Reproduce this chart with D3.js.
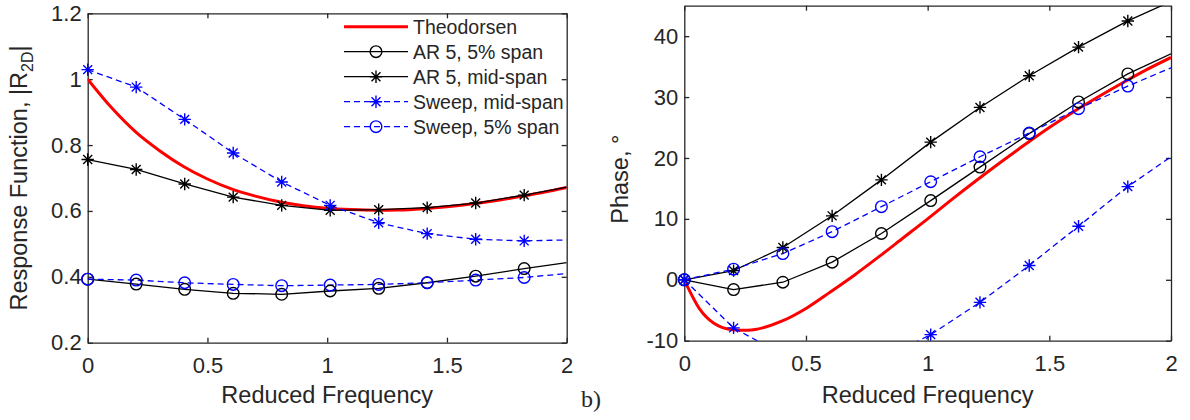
<!DOCTYPE html>
<html>
<head>
<meta charset="utf-8">
<script src="https://cdn.jsdelivr.net/npm/d3@7"></script>
<style>
body { margin: 0; background: #fff; }
svg text { font-family: "Liberation Sans", Arial, Helvetica, sans-serif; fill: #262626; }
</style>
</head>
<body>
<div id="chart"></div>
<script>
// reduced frequency of the measured points (last entry = end of line, no marker)
var freq = [0, 0.2025, 0.405, 0.6075, 0.81, 1.0125, 1.215, 1.4175, 1.62, 1.8225, 2.0];
var markerCount = 10;

// a) response function magnitude
var magAR5Tip   = [0.393, 0.378, 0.362, 0.350, 0.347, 0.357, 0.365, 0.382, 0.402, 0.425, 0.443];
var magAR5Mid   = [0.756, 0.726, 0.682, 0.642, 0.617, 0.602, 0.604, 0.610, 0.624, 0.648, 0.672];
var magSweepMid = [1.029, 0.976, 0.878, 0.776, 0.688, 0.617, 0.564, 0.531, 0.514, 0.509, 0.512];
var magSweepTip = [0.393, 0.390, 0.382, 0.377, 0.373, 0.375, 0.377, 0.382, 0.390, 0.398, 0.410];

var theoMagK = [0, 0.1, 0.2, 0.3, 0.4, 0.5, 0.6, 0.7, 0.8, 0.9, 1.0, 1.1, 1.2, 1.3, 1.4, 1.5, 1.6, 1.7, 1.8, 1.9, 2.0];
var theoMag  = [1.0, 0.913, 0.84, 0.783, 0.735, 0.697, 0.667, 0.645, 0.628, 0.616, 0.608, 0.604, 0.602, 0.603, 0.607, 0.613, 0.621, 0.631, 0.643, 0.656, 0.671];

// b) phase, degrees
var phAR5Tip   = [0, -1.6, -0.4, 2.9, 7.6, 13.0, 18.5, 24.0, 29.2, 33.8, 37.1];
var phAR5Mid   = [0, 1.5, 5.3, 10.5, 16.4, 22.6, 28.3, 33.5, 38.2, 42.5, 45.7];
var phSweepMid = [0, -7.9, -12.3, -13.6, -13.0, -9.0, -3.7, 2.35, 8.8, 15.3, 20.2];
var phSweepTip = [0, 1.75, 4.3, 7.9, 12.0, 16.1, 20.2, 24.1, 28.1, 31.8, 34.8];

var theoPhK = [0, 0.065, 0.12, 0.2, 0.26, 0.3, 0.4, 0.5, 0.6, 0.7, 0.8, 0.9, 1.0, 1.1, 1.2, 1.3, 1.4, 1.5, 1.6, 1.7, 1.8, 1.9, 2.0];
var theoPh  = [0, -4.9, -7.1, -8.2, -8.3, -8.1, -6.8, -4.7, -2.0, 0.8, 3.8, 6.9, 10.0, 13.2, 16.3, 19.3, 22.2, 25.0, 27.6, 30.0, 32.3, 34.5, 36.5];

var xTicks = [0, 0.5, 1, 1.5, 2];
var magTicks = [0.2, 0.4, 0.6, 0.8, 1, 1.2];
var phTicks = [-10, 0, 10, 20, 30, 40];

var legendNames = ["Theodorsen", "AR 5, 5% span", "AR 5, mid-span", "Sweep, mid-span", "Sweep, 5% span"];

var axisColor = "#262626";

var svg = d3.select('#chart').append('svg')
    .attr('width', 1190)
    .attr('height', 420);

// asterisk marker: "+" and "x" on top of each other
function starPath(s) {
    var d = s * 0.72;
    return 'M0,' + (-s) + 'V' + s + 'M' + (-s) + ',0H' + s +
        'M' + (-d) + ',' + (-d) + 'L' + d + ',' + d +
        'M' + (-d) + ',' + d + 'L' + d + ',' + (-d);
}

function drawMarker(sel, kind, color) {
    if (kind == 'circle') {
        sel.append('circle').attr('r', 5.8)
            .attr('fill', 'none').attr('stroke', color).attr('stroke-width', 1.4);
    } else {
        sel.append('path').attr('d', starPath(6.2))
            .attr('fill', 'none').attr('stroke', color).attr('stroke-width', 1.4);
    }
}

function drawPanel(p) {
    var g = svg.append('g').attr('transform', 'translate(' + p.left + ',' + p.top + ')');

    var x = d3.scaleLinear().domain([0, 2]).range([0, p.width]);
    var y = d3.scaleLinear().domain(p.yDomain).range([p.height, 0]);

    svg.append('clipPath').attr('id', p.id)
        .append('rect').attr('width', p.width).attr('height', p.height);

    // box with inward ticks on all four sides
    g.append('g').attr('transform', 'translate(0,' + p.height + ')')
        .call(d3.axisBottom(x).tickValues(xTicks).tickFormat(String).tickSize(-5).tickSizeOuter(0).tickPadding(15));
    g.append('g')
        .call(d3.axisTop(x).tickValues(xTicks).tickFormat('').tickSize(-5).tickSizeOuter(0));
    g.append('g')
        .call(d3.axisLeft(y).tickValues(p.yTicks).tickFormat(String).tickSize(-5).tickSizeOuter(0).tickPadding(6));
    g.append('g').attr('transform', 'translate(' + p.width + ',0)')
        .call(d3.axisRight(y).tickValues(p.yTicks).tickFormat('').tickSize(-5).tickSizeOuter(0));

    g.selectAll('.domain, .tick line').attr('stroke', axisColor).attr('stroke-width', 1.3);
    g.selectAll('.tick text').style('font-size', '22px').attr('fill', axisColor);

    var plot = g.append('g').attr('clip-path', 'url(#' + p.id + ')');

    // Theodorsen curve
    plot.append('path')
        .datum(d3.zip(p.theoX, p.theoY))
        .attr('d', d3.line().x(function(d) { return x(d[0]); }).y(function(d) { return y(d[1]); }).curve(d3.curveMonotoneX))
        .attr('fill', 'none')
        .attr('stroke', '#ff0000')
        .attr('stroke-width', 3);

    var line = d3.line().x(function(d) { return x(d[0]); }).y(function(d) { return y(d[1]); });

    p.series.forEach(function(s) {
        var pts = d3.zip(freq, s.values);
        plot.append('path')
            .datum(pts)
            .attr('d', line)
            .attr('fill', 'none')
            .attr('stroke', s.color)
            .attr('stroke-width', 1.3)
            .attr('stroke-dasharray', s.dash ? '6,4' : null);

        var inside = pts.slice(0, markerCount).filter(function(d) {
            return d[1] >= p.yDomain[0] && d[1] <= p.yDomain[1];
        });
        g.append('g').selectAll('g')
            .data(inside)
            .enter().append('g')
            .attr('transform', function(d) { return 'translate(' + x(d[0]) + ',' + y(d[1]) + ')'; })
            .each(function() { drawMarker(d3.select(this), s.marker, s.color); });
    });

    // axis titles
    g.append('text')
        .attr('x', p.width / 2)
        .attr('y', 403 - p.top)
        .attr('text-anchor', 'middle')
        .style('font-size', '23.5px')
        .text('Reduced Frequency');

    var yl = g.append('text')
        .attr('transform', 'translate(' + p.yLabelX + ',' + (p.height / 2 + p.yLabelShift) + ') rotate(-90)')
        .attr('text-anchor', 'middle')
        .style('font-size', '23.5px');
    p.yLabel(yl);

    return g;
}

drawPanel({
    id: 'clipA', left: 87.7, top: 13.3, width: 479, height: 329.4,
    yDomain: [0.2, 1.2], yTicks: magTicks,
    theoX: theoMagK, theoY: theoMag,
    yLabelX: -61, yLabelShift: 0,
    yLabel: function(t) {
        t.append('tspan').text('Response Function, |R');
        t.append('tspan').attr('dy', 6).style('font-size', '16px').text('2D');
        t.append('tspan').attr('dy', -6).text('|');
    },
    series: [
        { values: magAR5Tip, color: '#000', dash: false, marker: 'circle' },
        { values: magAR5Mid, color: '#000', dash: false, marker: 'star' },
        { values: magSweepMid, color: '#0000ff', dash: true, marker: 'star' },
        { values: magSweepTip, color: '#0000ff', dash: true, marker: 'circle' }
    ]
});

drawPanel({
    id: 'clipB', left: 684.3, top: 5.7, width: 486.7, height: 335,
    yDomain: [-10, 45], yTicks: phTicks,
    theoX: theoPhK, theoY: theoPh,
    yLabelX: -56, yLabelShift: 6,
    yLabel: function(t) { t.text('Phase, \u00b0'); },
    series: [
        { values: phAR5Tip, color: '#000', dash: false, marker: 'circle' },
        { values: phAR5Mid, color: '#000', dash: false, marker: 'star' },
        { values: phSweepMid, color: '#0000ff', dash: true, marker: 'star' },
        { values: phSweepTip, color: '#0000ff', dash: true, marker: 'circle' }
    ]
});

// legend (upper right of panel a, no frame)
var legendStyle = [
    { color: '#ff0000', width: 3, dash: false, marker: null },
    { color: '#000', width: 1.3, dash: false, marker: 'circle' },
    { color: '#000', width: 1.3, dash: false, marker: 'star' },
    { color: '#0000ff', width: 1.3, dash: true, marker: 'star' },
    { color: '#0000ff', width: 1.3, dash: true, marker: 'circle' }
];

var legend = svg.append('g').attr('transform', 'translate(344,26.7)');
legendNames.forEach(function(name, i) {
    var row = legend.append('g').attr('transform', 'translate(0,' + (i * 25) + ')');
    var st = legendStyle[i];
    row.append('line')
        .attr('x1', 0).attr('x2', 64)
        .attr('stroke', st.color)
        .attr('stroke-width', st.width)
        .attr('stroke-dasharray', st.dash ? '6,4' : null);
    if (st.marker) {
        drawMarker(row.append('g').attr('transform', 'translate(32,0)'), st.marker, st.color);
    }
    row.append('text')
        .attr('x', 69)
        .attr('y', 7)
        .style('font-size', '19.5px')
        .attr('fill', '#111')
        .text(name);
});

svg.append('text')
    .attr('x', 581)
    .attr('y', 407)
    .style('font-family', '"Liberation Serif", "DejaVu Serif", serif')
    .style('font-size', '24px')
    .attr('fill', '#333')
    .text('b)');
</script>
</body>
</html>
